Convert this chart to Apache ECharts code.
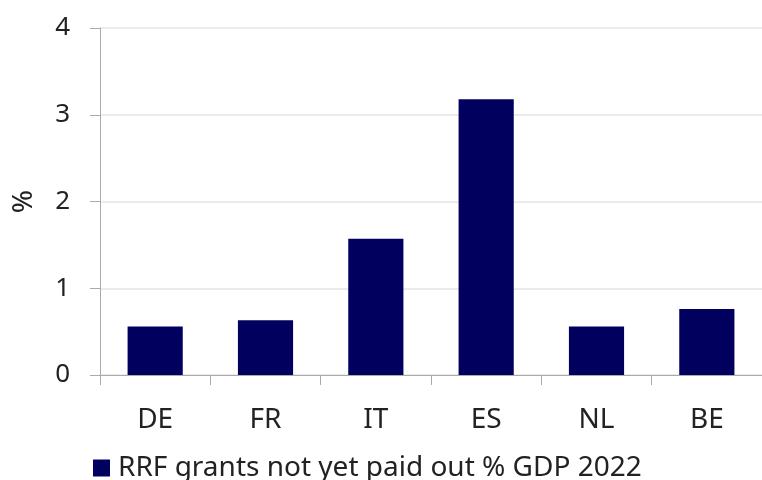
<!DOCTYPE html>
<html>
<head>
<meta charset="utf-8">
<script src="https://cdn.jsdelivr.net/npm/echarts@6/dist/echarts.min.js"></script>
<style>
  html, body { margin: 0; padding: 0; background: #ffffff; }
  #chart { width: 762px; height: 480px; }
</style>
</head>
<body>
<div id="chart"></div>
<script>
// Countries on the category axis
const countries = ['DE', 'FR', 'IT', 'ES', 'NL', 'BE'];
// RRF grants not yet paid out, % of GDP 2022
const grantsPending = [0.56, 0.63, 1.57, 3.18, 0.56, 0.76];
const seriesName = 'RRF grants not yet paid out % GDP 2022';
const yTicks = { min: 0, max: 4, interval: 1 };

const FONT = '"Noto Sans", "Open Sans", sans-serif';
const TEXT = '#222222';
const AXIS = '#aaaaaa';

const chart = echarts.init(document.getElementById('chart'), null, { renderer: 'canvas' });
chart.setOption({
  animation: false,
  backgroundColor: '#ffffff',
  textStyle: { fontFamily: FONT },
  grid: { left: 100, top: 28, width: 666, bottom: 105, containLabel: false },
  legend: {
    data: [seriesName],
    left: 88,
    top: 449,
    itemWidth: 17,
    itemHeight: 17,
    icon: 'rect',
    textStyle: { fontFamily: FONT, fontSize: 28, color: TEXT, padding: [0, 0, 0, 3] }
  },
  xAxis: {
    type: 'category',
    data: countries,
    axisLine: { lineStyle: { color: AXIS, width: 1 } },
    axisTick: { show: true, length: 10, alignWithLabel: false, lineStyle: { color: AXIS } },
    axisLabel: { fontFamily: FONT, fontSize: 28, color: TEXT, margin: 31 }
  },
  yAxis: {
    type: 'value',
    min: yTicks.min,
    max: yTicks.max,
    interval: yTicks.interval,
    name: '%',
    nameLocation: 'middle',
    nameGap: 62,
    nameRotate: 90,
    nameTextStyle: { fontFamily: FONT, fontSize: 28, color: TEXT },
    axisLine: { show: true, lineStyle: { color: AXIS, width: 1 } },
    axisTick: { show: true, length: 10, lineStyle: { color: AXIS } },
    axisLabel: { fontFamily: FONT, fontSize: 26, color: TEXT, margin: 30 },
    splitLine: { show: true, lineStyle: { color: '#e4e4e4', width: 1.5 } }
  },
  series: [{
    name: seriesName,
    type: 'bar',
    data: grantsPending,
    barWidth: '50%',
    itemStyle: { color: '#02005f' }
  }]
});
</script>
</body>
</html>
